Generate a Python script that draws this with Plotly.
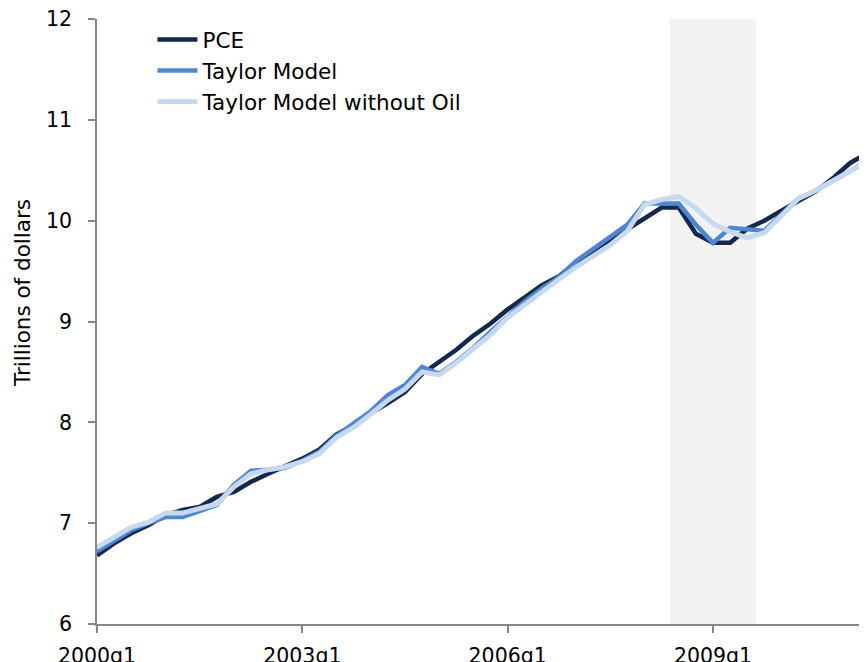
import plotly.graph_objects as go

quarters = [f"{y}q{q}" for y in range(2000, 2012) for q in range(1, 5)][:46]

pce = [6.68, 6.80, 6.90, 6.98, 7.08, 7.13, 7.16, 7.26, 7.31, 7.41, 7.49, 7.56,
       7.64, 7.73, 7.88, 7.97, 8.09, 8.19, 8.30, 8.48, 8.60, 8.72, 8.86, 8.98,
       9.12, 9.24, 9.36, 9.45, 9.59, 9.70, 9.81, 9.92, 10.02, 10.13, 10.13, 9.87,
       9.78, 9.78, 9.92, 10.00, 10.10, 10.19, 10.29, 10.42, 10.57, 10.67]

taylor = [6.72, 6.82, 6.93, 7.00, 7.06, 7.06, 7.12, 7.18, 7.38, 7.52, 7.53, 7.55,
          7.62, 7.71, 7.87, 7.99, 8.11, 8.27, 8.37, 8.55, 8.48, 8.60, 8.74, 8.90,
          9.05, 9.20, 9.33, 9.44, 9.60, 9.72, 9.84, 9.96, 10.17, 10.17, 10.17, 9.96,
          9.78, 9.93, 9.92, 9.90, 10.06, 10.22, 10.30, 10.39, 10.49, 10.59]

taylor_no_oil = [6.76, 6.86, 6.96, 7.01, 7.10, 7.10, 7.15, 7.19, 7.36, 7.49, 7.53, 7.56,
                 7.61, 7.69, 7.85, 7.95, 8.08, 8.22, 8.33, 8.50, 8.47, 8.59, 8.73, 8.87,
                 9.04, 9.17, 9.29, 9.42, 9.54, 9.65, 9.76, 9.90, 10.16, 10.21, 10.24, 10.12,
                 9.97, 9.89, 9.83, 9.88, 10.05, 10.22, 10.30, 10.39, 10.49, 10.60]

recession = ["2008q3", "2009q3"]
x_ticks = ["2000q1", "2003q1", "2006q1", "2009q1"]
y_ticks = [6, 7, 8, 9, 10, 11, 12]
y_title = "Trillions of dollars"

FONT = "DejaVu Sans"

fig = go.Figure()
fig.add_trace(go.Scatter(x=quarters, y=pce, mode="lines", name="PCE",
                         line=dict(color="#13284a", width=4.5)))
fig.add_trace(go.Scatter(x=quarters, y=taylor, mode="lines", name="Taylor Model",
                         line=dict(color="#4f86d2", width=4.5)))
fig.add_trace(go.Scatter(x=quarters, y=taylor_no_oil, mode="lines", name="Taylor Model without Oil",
                         line=dict(color="#c6d9f1", width=5)))

r0 = quarters.index(recession[0]) - 0.5
r1 = quarters.index(recession[1]) + 0.5
fig.add_shape(type="rect", xref="x", yref="paper", x0=r0, x1=r1, y0=0, y1=1,
              fillcolor="#f2f2f2", line=dict(width=0), layer="below")

fig.add_annotation(text=y_title, xref="paper", yref="paper", x=0, y=0.547,
                   xshift=-75, textangle=-90, showarrow=False,
                   xanchor="center", yanchor="middle",
                   font=dict(size=21.5, family=FONT, color="#000000"))

fig.update_layout(
    width=867, height=662,
    margin=dict(l=89, r=8, t=11, b=46),
    paper_bgcolor="white", plot_bgcolor="white",
    font=dict(family=FONT, size=20, color="#000000"),
    showlegend=True,
    legend=dict(x=0.072, y=1.0, xanchor="left", yanchor="top",
                bgcolor="rgba(0,0,0,0)", font=dict(size=21.5, family=FONT),
                itemwidth=40),
    xaxis=dict(type="category", categoryorder="array", categoryarray=quarters,
               range=[0, len(quarters) - 1], tickmode="array", tickvals=x_ticks,
               ticktext=x_ticks, showgrid=False, zeroline=False, showline=True,
               linecolor="#868686", linewidth=1.5, ticks="outside", ticklen=7,
               tickcolor="#868686", tickwidth=1.5, tickfont=dict(size=20.5),
               ticklabelstandoff=6, automargin=False, ticklabeloverflow="allow"),
    yaxis=dict(range=[6, 12], tickvals=y_ticks, showgrid=False, zeroline=False,
               showline=True, linecolor="#868686", linewidth=1.5, ticks="outside",
               ticklen=7, tickcolor="#868686", tickwidth=1.5, tickfont=dict(size=20.5),
               ticklabelstandoff=12, ticklabeloverflow="allow", automargin=False),
)

fig.write_html("out.html")
